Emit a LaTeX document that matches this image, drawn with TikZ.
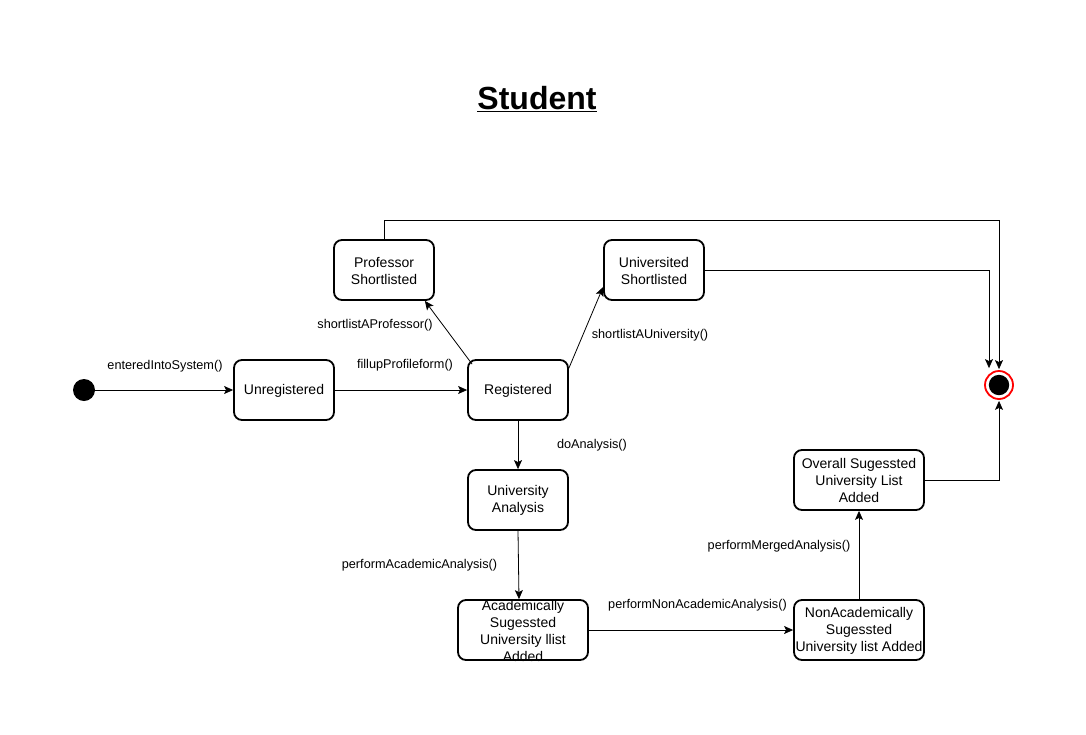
\documentclass[tikz,border=0pt]{standalone}
\usepackage{fontspec}
\setmainfont{Liberation Sans}
\usetikzlibrary{arrows.meta}
\begin{document}
\begin{tikzpicture}[x=1pt,y=-1pt,
  state/.style={draw, rounded corners=8pt, line width=1.8pt, minimum width=100pt, minimum height=60pt, inner sep=0pt},
  wide/.style={minimum width=130pt},
  stext/.style={align=center, inner sep=0pt, font=\fontsize{14}{17}\selectfont},
  lbl/.style={font=\fontsize{12.7}{15}\selectfont, inner sep=0pt},
  conn/.style={-{Stealth[length=9pt,width=8pt,inset=2pt]}, line width=0.8pt}]
\useasboundingbox (0,0) rectangle (1086,734);
% title
\node (title) at (537,99) {\fontsize{32}{38}\selectfont\bfseries\underline{Student}};
% states
\node[circle, fill=black, minimum size=22pt, inner sep=0pt] (init) at (84,390) {};
\node[state] (unreg) at (284,390) {};
\node[state] (reg) at (518,390) {};
\node[state] (prof) at (384,270) {};
\node[state] (uni) at (654,270) {};
\node[state] (ua) at (518,500) {};
\node[state, wide] (ac) at (523,630) {};
\node[state, wide] (nac) at (859,630) {};
\node[state, wide] (ov) at (859,480) {};
\node[stext] (unregT) at ([yshift=-0.7pt]unreg.center) {Unregistered};
\node[stext] (regT) at ([yshift=-0.7pt]reg.center) {Registered};
\node[stext] (profT) at ([yshift=-0.7pt]prof.center) {Professor\\Shortlisted};
\node[stext] (uniT) at ([yshift=-0.7pt]uni.center) {Universited\\Shortlisted};
\node[stext] (uaT) at ([yshift=-0.7pt]ua.center) {University\\Analysis};
\node[stext] (acT) at ([yshift=-0.7pt]ac.center) {Academically\\Sugessted\\University llist\\Added};
\node[stext] (nacT) at ([yshift=-0.7pt]nac.center) {NonAcademically\\Sugessted\\University list Added};
\node[stext] (ovT) at ([yshift=-0.7pt]ov.center) {Overall Sugessted\\University List\\Added};
\node[circle, draw=red, line width=1.8pt, fill=white, minimum size=28pt, inner sep=0pt] (fin) at (999,385) {};
\fill[black] (fin.center) circle (10.2pt);
% connectors
\draw[conn] (init) -- (unreg.west);
\draw[conn] (unreg.east) -- (reg.west);
\draw[conn] ([xshift=5pt,yshift=-5pt]reg.north west) -- ([xshift=-10pt]prof.south east);
\draw[conn] ([yshift=-9pt]reg.north east) -- ([yshift=-17pt]uni.west);
\draw[conn] (reg.south) -- (ua.north);
\draw[conn] (ua.south) -- ([xshift=-4pt]ac.north);
\draw[conn] (ac.east) -- (nac.west);
\draw[conn] (nac.north) -- (ov.south);
\draw[conn] (ov.east) -| ([yshift=-1pt]fin.south);
\draw[conn] (uni.east) -| ([xshift=-10pt,yshift=2pt]fin.north);
\draw[conn] (prof.north) |- (999,220) -- ([yshift=1pt]fin.north);
% labels
\node[lbl] (l1) at (165,366) {enteredIntoSystem()};
\node[lbl] (l2) at (405,365) {fillupProfileform()};
\node[lbl] (l3) at (375,325) {shortlistAProfessor()};
\node[lbl] (l4) at (650,335) {shortlistAUniversity()};
\node[lbl] (l5) at (592,445) {doAnalysis()};
\node[lbl] (l6) at (419.5,565) {performAcademicAnalysis()};
\node[lbl] (l7) at (697.5,605) {performNonAcademicAnalysis()};
\node[lbl] (l8) at (779,546) {performMergedAnalysis()};
\end{tikzpicture}
\end{document}
